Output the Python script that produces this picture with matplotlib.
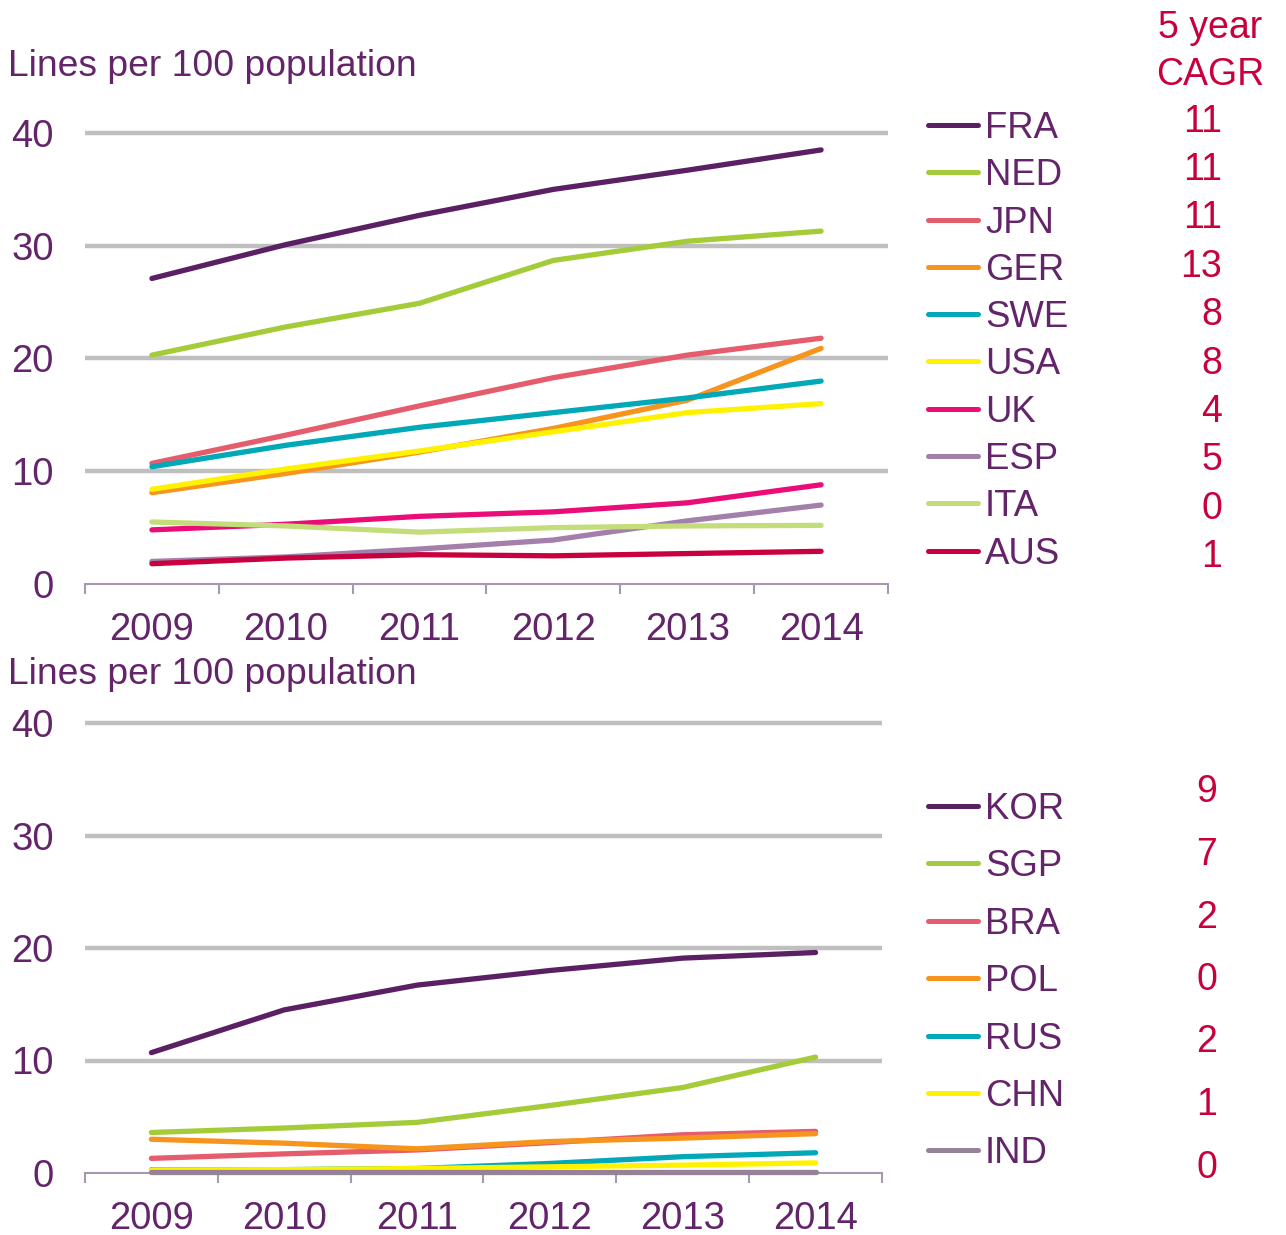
import numpy as np
import matplotlib
matplotlib.use("Agg")
import matplotlib.pyplot as plt
from matplotlib.lines import Line2D

plt.rcParams['font.family'] = ['Liberation Sans', 'DejaVu Sans']

# data
years = ['2009', '2010', '2011', '2012', '2013', '2014']

top_names = ['FRA', 'NED', 'JPN', 'GER', 'SWE', 'USA', 'UK', 'ESP', 'ITA', 'AUS']
top_cagr = [11, 11, 11, 13, 8, 8, 4, 5, 0, 1]
fra = [27.1, 30.1, 32.7, 35.0, 36.7, 38.5]
ned = [20.3, 22.8, 24.9, 28.7, 30.4, 31.3]
jpn = [10.7, 13.2, 15.8, 18.3, 20.3, 21.8]
ger = [8.1, 9.8, 11.7, 13.8, 16.3, 20.9]
swe = [10.4, 12.3, 13.9, 15.2, 16.5, 18.0]
usa = [8.4, 10.2, 11.8, 13.5, 15.2, 16.0]
uk = [4.8, 5.3, 6.0, 6.4, 7.2, 8.8]
esp = [2.0, 2.4, 3.1, 3.9, 5.6, 7.0]
ita = [5.5, 5.15, 4.6, 5.0, 5.15, 5.2]
aus = [1.8, 2.3, 2.6, 2.5, 2.7, 2.9]

bot_names = ['KOR', 'SGP', 'BRA', 'POL', 'RUS', 'CHN', 'IND']
bot_cagr = [9, 7, 2, 0, 2, 1, 0]
kor = [10.7, 14.5, 16.7, 18.0, 19.1, 19.6]
sgp = [3.6, 4.0, 4.5, 6.0, 7.6, 10.3]
bra = [1.3, 1.7, 2.05, 2.7, 3.4, 3.7]
pol = [3.0, 2.65, 2.15, 2.8, 3.1, 3.5]
rus = [0.3, 0.3, 0.4, 0.85, 1.45, 1.8]
chn = [0.27, 0.3, 0.4, 0.55, 0.7, 0.9]
ind = [0.1, 0.1, 0.1, 0.1, 0.1, 0.1]

top_series = [fra, ned, jpn, ger, swe, usa, uk, esp, ita, aus]
bot_series = [kor, sgp, bra, pol, rus, chn, ind]

top_colors = ['#5b2063', '#a4cc39', '#e55c6c', '#f7941e', '#00a8b8',
              '#fff200', '#eb0d77', '#a47fac', '#c3dd7b', '#c8003f']
bot_colors = ['#5b2063', '#a4cc39', '#e55c6c', '#f7941e', '#00a8b8',
              '#fff200', '#968296']

purple = '#63246a'
red = '#c8003c'
spine_c = '#a897b0'

W, H = 1286, 1235
def fx(px):
    return px / W
def fy(py):
    return 1 - py / H

fig = plt.figure(figsize=(12.86, 12.35), dpi=100)
ax1 = fig.add_axes([fx(85), fy(584), (888 - 85) / W, (584 - 133) / H])
ax2 = fig.add_axes([fx(85), fy(1173), (882 - 85) / W, (1173 - 723) / H])

def style(ax):
    ax.set_xlim(-0.5, 5.5)
    ax.set_ylim(0, 40)
    ax.set_yticks([0, 10, 20, 30, 40])
    ax.set_axisbelow(True)
    ax.yaxis.grid(True, color='#bfbfbf', lw=3.2)
    for gl in ax.get_ygridlines():
        gl.set_clip_on(False)
        gl.set_solid_capstyle('butt')
    ax.get_ygridlines()[0].set_visible(False)
    for s in ['left', 'right', 'top']:
        ax.spines[s].set_visible(False)
    ax.spines['bottom'].set_color(spine_c)
    ax.spines['bottom'].set_linewidth(1.5)
    ax.set_xticks(np.arange(-0.5, 6, 1))
    ax.set_xticklabels([])
    ax.set_xticks(range(6), minor=True)
    ax.set_xticklabels(years, minor=True)
    ax.tick_params(axis='x', which='major', length=7, width=1.5, color=spine_c)
    ax.tick_params(axis='x', which='minor', length=0, pad=20,
                   labelsize=27.5, labelcolor=purple)
    ax.tick_params(axis='y', length=0, pad=22.5, labelsize=27.5, labelcolor=purple)

for ax, series, colors in [(ax1, top_series, top_colors), (ax2, bot_series, bot_colors)]:
    style(ax)
    for vals, c in zip(series, colors):
        ax.plot(range(6), vals, color=c, lw=3.8, solid_capstyle='round',
                clip_on=False, zorder=3)

def legend(names, colors, cagr, y_row0, dy_row, y_c0, dy_c, xc):
    for i, (n, c, g) in enumerate(zip(names, colors, cagr)):
        y = y_row0 + i * dy_row
        fig.add_artist(Line2D([fx(928), fx(978)], [fy(y), fy(y)], color=c,
                              lw=3.6, solid_capstyle='round'))
        fig.text(fx(985), fy(y + 13), n, fontsize=26.3, color=purple, va='baseline')
        yc = y_c0 + i * dy_c
        fig.text(fx(xc), fy(yc + 13.5), str(g), fontsize=27, color=red,
                 ha='right', va='baseline')

legend(top_names, top_colors, top_cagr, 125, 47.3, 118, 48.4, 1222)
legend(bot_names, bot_colors, bot_cagr, 806, 57.4, 789, 62.5, 1217)

fig.text(fx(1210), fy(38), '5 year', fontsize=27, color=red, ha='center', va='baseline')
fig.text(fx(1210), fy(85), 'CAGR', fontsize=27, color=red, ha='center', va='baseline')

fig.text(fx(8), fy(76), 'Lines per 100 population', fontsize=26.8, color=purple, va='baseline')
fig.text(fx(8), fy(684), 'Lines per 100 population', fontsize=26.8, color=purple, va='baseline')

fig.savefig('out.png', dpi=100)
